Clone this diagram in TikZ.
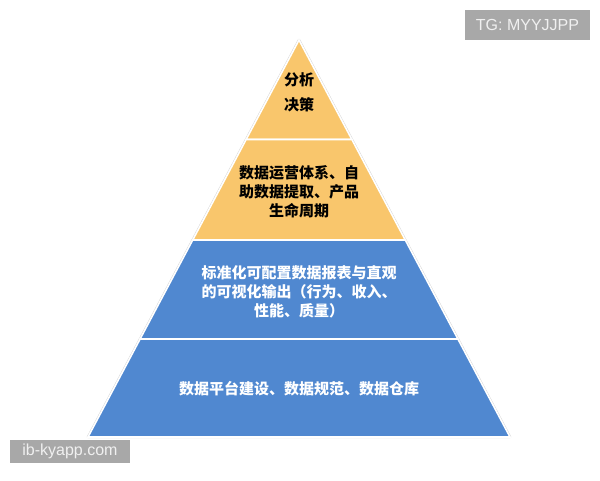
\documentclass[tikz,border=0pt]{standalone}
\usepackage{fontspec}
\setsansfont{Liberation Sans}
\newfontfamily\cjk{Noto Sans CJK SC}
\usetikzlibrary{calc}
\definecolor{pyrgold}{RGB}{249,198,108}
\definecolor{pyrblue}{RGB}{80,136,208}
\definecolor{wmgray}{RGB}{168,168,168}
\tikzset{
  level/.style={draw=white,line width=1.6pt,line join=miter},
  darktext/.style={font=\cjk\bfseries\fontsize{15}{19}\selectfont,text=black,align=center,inner sep=0pt},
  lighttext/.style={font=\cjk\bfseries\fontsize{15}{19}\selectfont,text=white,align=center,inner sep=0pt},
  watermark/.style={fill=wmgray,text=white!94!black,font=\sffamily\fontsize{16}{18}\selectfont,inner sep=0pt}
}
\begin{document}
\begin{tikzpicture}[x=1pt,y=-1pt]
\useasboundingbox (0,0) rectangle (600,480);
\coordinate (A) at (299,40);
\coordinate (BL) at (88,437);
\coordinate (BR) at (510,437);
\coordinate (L1) at ($(A)!0.2506!(BL)$);
\coordinate (R1) at ($(A)!0.2506!(BR)$);
\coordinate (L2) at ($(A)!0.5038!(BL)$);
\coordinate (R2) at ($(A)!0.5038!(BR)$);
\coordinate (L3) at ($(A)!0.7531!(BL)$);
\coordinate (R3) at ($(A)!0.7531!(BR)$);
% faint outer edge
\draw[gray!35,line width=2.4pt,line join=round] (A) -- (BL) -- (BR) -- cycle;
% levels
\fill[pyrgold] (A) -- (L1) -- (R1) -- cycle;
\draw[level] (A) -- (L1) -- (R1) -- cycle;
\fill[pyrgold] (L1) -- (L2) -- (R2) -- (R1) -- cycle;
\draw[level] (L1) -- (L2) -- (R2) -- (R1) -- cycle;
\fill[pyrblue] (L2) -- (L3) -- (R3) -- (R2) -- cycle;
\draw[level] (L2) -- (L3) -- (R3) -- (R2) -- cycle;
\fill[pyrblue] (L3) -- (BL) -- (BR) -- (R3) -- cycle;
\draw[level] (L3) -- (BL) -- (BR) -- (R3) -- cycle;
% texts
\node[darktext] (t1) at (299,92) {分析\\[6pt]决策};
\node[darktext] (t2) at (299,192) {数据运营体系、自\\助数据提取、产品\\生命周期};
\node[lighttext] (t3) at (299,292) {标准化可配置数据报表与直观\\的可视化输出（行为、收入、\\性能、质量）};
\node[lighttext] (t4) at (299,389) {数据平台建设、数据规范、数据仓库};
% watermarks
\node[watermark,minimum width=125pt,minimum height=30pt] (tg) at (527.5,25) {TG: MYYJJPP};
\node[watermark,minimum width=120pt,minimum height=23pt] (ib) at (70,451.5) {ib-kyapp.com};
\end{tikzpicture}
\end{document}
